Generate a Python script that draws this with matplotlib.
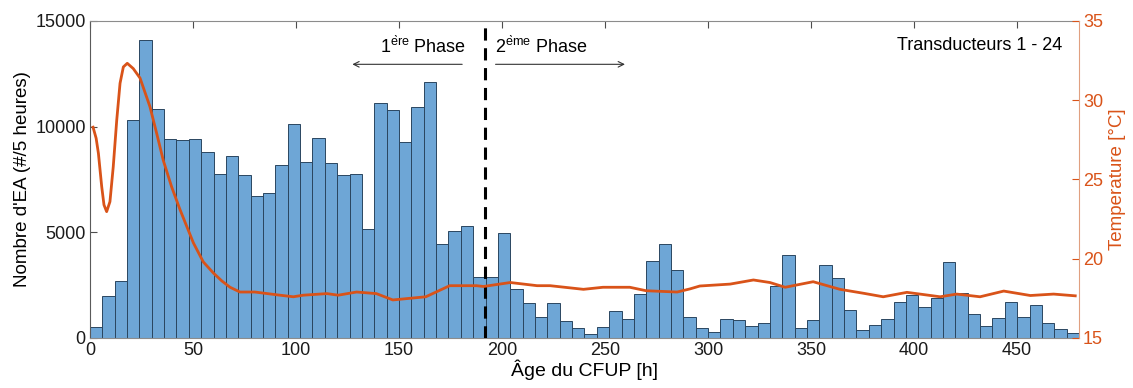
import numpy as np
import matplotlib
matplotlib.use("Agg")
import matplotlib.pyplot as plt

plt.rcParams['font.family'] = ['Liberation Sans', 'DejaVu Sans']

# Histogram: 6 h bins from 0 to 480 h
bin_width = 6
counts = [500, 2000, 2700, 10300, 14100, 10830, 9420, 9350, 9400, 8780,
          7740, 8590, 7690, 6740, 6860, 8200, 10120, 8310, 9450, 8265,
          7715, 7745, 5160, 11100, 10790, 9290, 10910, 12120, 4430, 5080,
          5310, 2880, 2870, 4950, 2300, 1670, 980, 1640, 820, 460,
          205, 540, 1260, 915, 2080, 3630, 4450, 3220, 980, 460,
          285, 880, 870, 570, 695, 2445, 3945, 460, 850, 3455,
          2840, 1310, 365, 630, 890, 1705, 2035, 1465, 1875, 3610,
          2115, 1135, 550, 930, 1705, 1010, 1580, 710, 425, 250]

# Temperature curve (hours, °C)
temp_h = [1.5, 3.0, 4.1, 5.7, 6.8, 8.1, 9.7, 11.3, 13.0, 14.6, 16.2, 18.1, 21.0,
          24.3, 26.7, 29.1, 32.4, 35.6, 39.6, 43.7, 50.2, 55.0, 59.9, 64.0, 68.0,
          72.8, 80.0, 92.2, 98.7, 103.5, 115.0, 120.5, 129.4, 139.0, 147.0,
          163.0, 174.6, 187.6, 191.0, 204.0, 217.0, 223.3, 239.5, 249.0,
          262.0, 270.0, 285.0, 291.3, 296.0, 310.7, 322.0, 330.0, 337.4,
          351.0, 364.0, 375.5, 385.0, 396.5, 412.6, 420.7, 432.0, 443.5,
          456.4, 467.7, 478.2]
temp_c = [28.3, 27.6, 26.65, 24.55, 23.4, 22.97, 23.6, 25.8, 28.75, 31.07, 32.1,
          32.33, 32.0, 31.4, 30.5, 29.6, 27.9, 26.2, 24.55, 23.1, 21.0, 19.8,
          19.1, 18.6, 18.2, 17.9, 17.9, 17.7, 17.6, 17.7, 17.8, 17.7, 17.9, 17.8,
          17.4, 17.6, 18.3, 18.3, 18.25, 18.5, 18.3, 18.3, 18.07, 18.2, 18.2,
          17.98, 17.9, 18.1, 18.28, 18.4, 18.66, 18.5, 18.2, 18.55, 18.07,
          17.82, 17.6, 17.88, 17.6, 17.77, 17.6, 17.96, 17.68, 17.77, 17.66]

phase_split = 191.5

bar_color = '#6ea6d6'
edge_color = '#2a4660'
orange = '#D95319'
axis_gray = '#4d4d4d'

fig = plt.figure(figsize=(11.33, 3.88), dpi=100)
ax = fig.add_axes([0.0794, 0.1289, 0.8729, 0.8170])

edges = np.arange(len(counts)) * bin_width
ax.bar(edges, counts, width=bin_width, align='edge', color=bar_color,
       edgecolor=edge_color, linewidth=0.7, zorder=2)

ax.set_xlim(0, 480)
ax.set_ylim(0, 15000)
ax.set_xticks(np.arange(0, 451, 50))
ax.set_yticks([0, 5000, 10000, 15000])
ax.tick_params(axis='both', direction='in', labelsize=13, length=5,
               color=axis_gray, labelcolor='#1a1a1a')
ax.tick_params(axis='x', top=True, pad=3)
ax.tick_params(axis='y', right=False, pad=3)
for s in ['top', 'bottom', 'left']:
    ax.spines[s].set_color('#8c8c8c')
ax.spines['left'].set_color('#5a5a5a')
ax.spines['right'].set_visible(False)
ax.set_xlabel('Âge du CFUP [h]', fontsize=14, labelpad=0)
ax.set_ylabel("Nombre d'EA (#/5 heures)", fontsize=13.5, labelpad=3)

ax.axvline(phase_split, color='black', linestyle=(0, (4, 2.5)), linewidth=2.2, zorder=4)

ax.annotate('', xy=(126, 12950), xytext=(182, 12950),
            arrowprops=dict(arrowstyle='->', color='#333333', lw=0.8))
ax.annotate('', xy=(261, 12950), xytext=(195.5, 12950),
            arrowprops=dict(arrowstyle='->', color='#333333', lw=0.8))
ax.text(182.5, 13300, r'1$^{\mathregular{\grave{e}re}}$ Phase', ha='right', va='bottom',
        fontsize=13)
ax.text(196.5, 13300, r'2$^{\mathregular{\grave{e}me}}$ Phase', ha='left', va='bottom',
        fontsize=13)
ax.text(472, 13850, 'Transducteurs 1 - 24', ha='right', va='center', fontsize=13)

ax2 = ax.twinx()
ax2.plot(temp_h, temp_c, color=orange, linewidth=2, zorder=3)
ax2.set_ylim(15, 35)
ax2.set_yticks([15, 20, 25, 30, 35])
ax2.tick_params(axis='y', direction='in', labelsize=13, length=5, pad=3,
                color=orange, labelcolor=orange)
ax2.spines['right'].set_color('#e0a080')
for s in ['top', 'bottom', 'left']:
    ax2.spines[s].set_visible(False)
ax2.set_ylabel('Temperature [°C]', fontsize=13.5, color=orange, labelpad=4)

fig.savefig('out.png', dpi=100)
